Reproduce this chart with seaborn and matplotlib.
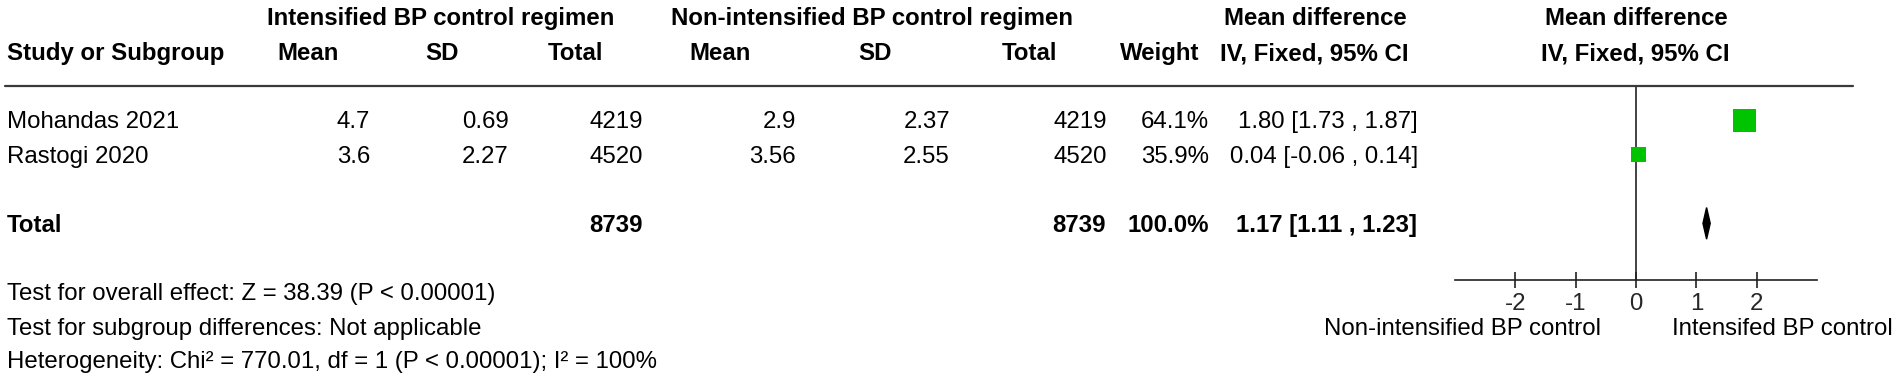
import numpy as np
import pandas as pd
import matplotlib.pyplot as plt
import seaborn as sns
from matplotlib import font_manager
from matplotlib.lines import Line2D
from matplotlib.patches import Polygon

studies = ["Mohandas 2021", "Rastogi 2020"]
int_mean = [4.7, 3.6]
int_sd = [0.69, 2.27]
int_total = [4219, 4520]
ctl_mean = [2.9, 3.56]
ctl_sd = [2.37, 2.55]
ctl_total = [4219, 4520]
weights = [64.1, 35.9]
md = [1.80, 0.04]
ci_low = [1.73, -0.06]
ci_high = [1.87, 0.14]
pooled_md = 1.17
pooled_low = 1.11
pooled_high = 1.23
sum_int_total = 8739
sum_ctl_total = 8739
ticks = [-2, -1, 0, 1, 2]
footnotes = [
    "Test for overall effect: Z = 38.39 (P < 0.00001)",
    "Test for subgroup differences: Not applicable",
    "Heterogeneity: Chi\u00b2 = 770.01, df = 1 (P < 0.00001); I\u00b2 = 100%",
]

sns.set_theme(style="white")
plt.rcParams['font.family'] = ['Liberation Sans', 'DejaVu Sans']
plt.rcParams['axes.unicode_minus'] = False

# the table body text in the original is a tall, condensed face
try:
    font_manager.findfont('Liberation Sans Narrow', fallback_to_default=False)
    NARROW, FS_BODY = 'Liberation Sans Narrow', 21.0
except Exception:
    NARROW, FS_BODY = 'Liberation Sans', 17.3

W, H = 1900, 386
fig = plt.figure(figsize=(W / 100, H / 100), dpi=100)
FS = 17.3


def px(x, y, s, ha='left', bold=False, body=False):
    # place text using pixel coords measured from top-left (y = baseline)
    fam = [NARROW, 'DejaVu Sans'] if body else ['Liberation Sans', 'DejaVu Sans']
    fig.text(x / W, 1 - y / H, s, ha=ha, va='baseline',
             fontsize=FS_BODY if body else FS, family=fam,
             fontweight='bold' if bold else 'normal', color='black')


# header rows
px(441, 25, "Intensified BP control regimen", 'center', True)
px(872, 25, "Non-intensified BP control regimen", 'center', True)
px(1315, 25, "Mean difference", 'center', True)
px(1636, 25, "Mean difference", 'center', True)
px(7, 60, "Study or Subgroup", 'left', True)
for xc, lab in [(308, "Mean"), (442, "SD"), (576, "Total"), (720, "Mean"),
                (875, "SD"), (1030, "Total"), (1160, "Weight"),
                (1314, "IV, Fixed, 95% CI"), (1635, "IV, Fixed, 95% CI")]:
    px(xc, 60, lab, 'center', True)

fig.add_artist(Line2D([5 / W, 1853 / W], [1 - 86 / H, 1 - 86 / H],
                      color='#3a3a3a', lw=1.6))

# study rows
row_base = [128, 163]
for i, name in enumerate(studies):
    yb = row_base[i]
    px(7, yb, name, body=True)
    px(370, yb, str(int_mean[i]), 'right', body=True)
    px(509, yb, str(int_sd[i]), 'right', body=True)
    px(643, yb, str(int_total[i]), 'right', body=True)
    px(796, yb, str(ctl_mean[i]), 'right', body=True)
    px(950, yb, str(ctl_sd[i]), 'right', body=True)
    px(1107, yb, str(ctl_total[i]), 'right', body=True)
    px(1209, yb, f"{weights[i]:.1f}%", 'right', body=True)
    px(1418, yb, f"{md[i]:.2f} [{ci_low[i]:.2f} , {ci_high[i]:.2f}]", 'right', body=True)

# total row
px(7, 232, "Total", 'left', True)
px(643, 232, str(sum_int_total), 'right', True)
px(1106, 232, str(sum_ctl_total), 'right', True)
px(1209, 232, f"{sum(weights):.1f}%", 'right', True)
px(1417, 232, f"{pooled_md:.2f} [{pooled_low:.2f} , {pooled_high:.2f}]", 'right', True)

for yb, line in zip([300, 335, 368], footnotes):
    px(7, yb, line, body=True)

# forest plot
ax = fig.add_axes([1455 / W, 1 - 280 / H, 362 / W, 194 / H])
ax.set_xlim(-3, 3)
ax.set_ylim(4.65, -1.0)
df = pd.DataFrame({"md": md, "row": [0, 1], "weight": weights})
ax.hlines(df["row"], ci_low, ci_high, color='black', lw=1)
sns.scatterplot(data=df, x="md", y="row", size="weight", sizes=(117, 280),
                size_norm=(min(weights), max(weights)), marker='s',
                color='#00C400', edgecolor='none', legend=False, ax=ax, zorder=3)
d = 0.46
ax.add_patch(Polygon([[pooled_low, 3], [pooled_md, 3 - d], [pooled_high, 3],
                      [pooled_md, 3 + d]], closed=True, color='black', zorder=3))
ax.axvline(0, color='#222222', lw=1.2)

for s in ['top', 'right', 'left']:
    ax.spines[s].set_visible(False)
ax.spines['bottom'].set_color('#222222')
ax.spines['bottom'].set_linewidth(1.2)
ax.set_yticks([])
ax.set_xticks(ticks)
ax.set_xticklabels([str(t) for t in ticks], fontsize=FS)
ax.tick_params(axis='x', direction='inout', length=12, width=1.2,
               color='#222222', pad=3, bottom=True)
ax.set_xlabel("")
ax.set_ylabel("")
ax.patch.set_alpha(0)

px(1462, 335, "Non-intensified BP control", 'center')
px(1782, 335, "Intensifed BP control", 'center')

fig.savefig("out.png", dpi=100)
